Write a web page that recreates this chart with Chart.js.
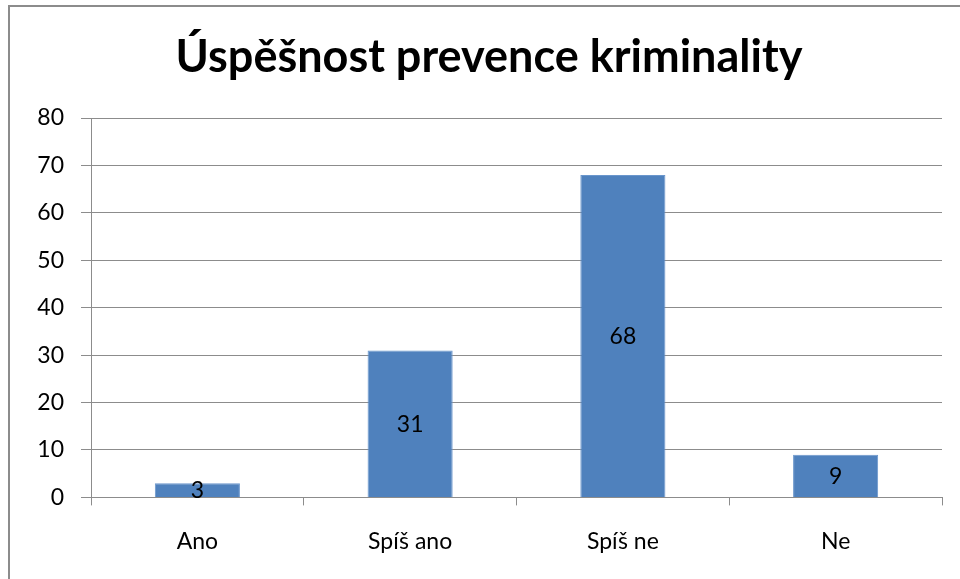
<!DOCTYPE html>
<html>
<head>
<meta charset="utf-8">
<script src="https://cdn.jsdelivr.net/npm/chart.js@4.4.0/dist/chart.umd.min.js"></script>
<style>
  html, body { margin: 0; padding: 0; background: #fff; overflow: hidden; }
  #wrap { position: relative; width: 960px; height: 579px; }
  #frame { position: absolute; left: 8px; top: 5px; width: 1000px; height: 700px; border: 2px solid #8c8c8c; box-sizing: border-box; }
  #chart { position: absolute; left: 0; top: 0; }
</style>
</head>
<body>
<div id="wrap">
  <div id="frame"></div>
  <canvas id="chart" width="960" height="579"></canvas>
</div>
<script>
// data
const categories = ['Ano', 'Spíš ano', 'Spíš ne', 'Ne'];
const values = [3, 31, 68, 9];
const chartTitle = 'Úspěšnost prevence kriminality';

// draws the value in the middle of each bar
const barLabels = {
    id: 'barLabels',
    afterDatasetsDraw(chart) {
        const ctx = chart.ctx;
        const meta = chart.getDatasetMeta(0);
        ctx.save();
        ctx.font = '23px Lato';
        ctx.fillStyle = '#000';
        ctx.textAlign = 'center';
        ctx.textBaseline = 'middle';
        meta.data.forEach(function(bar, i) {
            const mid = (bar.y + bar.base) / 2;
            ctx.fillText(String(values[i]), bar.x, mid + 1);
        });
        ctx.restore();
    }
};

new Chart(document.getElementById('chart').getContext('2d'), {
    type: 'bar',
    data: {
        labels: categories,
        datasets: [{
            data: values,
            backgroundColor: '#4f81bd',
            borderColor: '#6a96cc',
            borderWidth: 1,
            categoryPercentage: 1,
            barPercentage: 0.4
        }]
    },
    options: {
        responsive: false,
        animation: false,
        layout: { padding: { left: 36, right: 18, top: 20, bottom: 2 } },
        plugins: {
            legend: { display: false },
            tooltip: { enabled: false },
            title: {
                display: true,
                text: chartTitle,
                color: '#000',
                font: { family: 'Lato', size: 45, weight: 'bold' },
                padding: { top: 10, bottom: 34 }
            }
        },
        scales: {
            x: {
                grid: {
                    drawOnChartArea: false,
                    drawTicks: true,
                    tickLength: 8,
                    color: '#8c8c8c'
                },
                border: { color: '#8c8c8c', width: 1 },
                ticks: {
                    color: '#000',
                    font: { family: 'Lato', size: 23 },
                    padding: 22
                }
            },
            y: {
                min: 0,
                max: 80,
                afterFit: function(scale) { scale.width = 55; },
                grid: {
                    color: '#8c8c8c',
                    tickLength: 10
                },
                border: { color: '#8c8c8c', width: 1 },
                ticks: {
                    stepSize: 10,
                    color: '#000',
                    font: { family: 'Lato', size: 23 },
                    padding: 17
                }
            }
        }
    },
    plugins: [barLabels]
});
</script>
</body>
</html>
